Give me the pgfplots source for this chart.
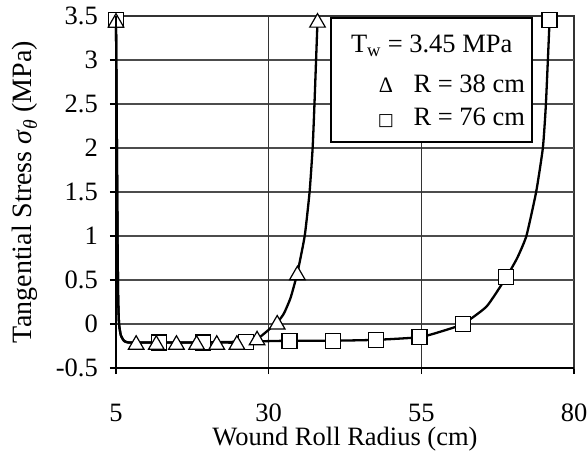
\documentclass[border=0pt]{standalone}
\usepackage{pgfplots}
\pgfplotsset{compat=1.18}
\usepackage{fontspec}
\setmainfont{Liberation Serif}
\newfontfamily\dejavu{DejaVu Sans}
\begin{document}
\begin{tikzpicture}
\begin{axis}[
  width=458pt, height=352pt, scale only axis,
  xmin=5, xmax=80, ymin=-0.5, ymax=3.5,
  xtick={5,30,55,80}, ytick={-0.5,0,0.5,1,1.5,2,2.5,3,3.5},
  tick pos=left,
  axis line style={black!80, line width=1.1pt},
  grid=major, major grid style={black!75, line width=1.2pt},
  tick align=outside, major tick length=6pt,
  tick style={black, line width=1.2pt},
  /pgf/number format/assume math mode=true,
  tick label style={font=\fontsize{26.5}{30}\selectfont, inner sep=0pt},
  xticklabel style={anchor=base, yshift=-47pt},
  yticklabel style={anchor=east, xshift=-12pt},
  label style={font=\fontsize{26.5}{30}\selectfont, inner sep=0pt},
  xlabel={Wound Roll Radius (cm)},
  xlabel style={at={(axis description cs:0.5,0)}, anchor=base, yshift=-77pt},
  ylabel={Tangential Stress \textit{σ}\textsubscript{\textit{θ}} (MPa)},
  ylabel style={at={(axis description cs:0,0.5)}, anchor=center, yshift=91pt, font=\fontsize{28}{32}\selectfont},
  clip=false,
  after end axis/.code={
    \draw[black, line width=1.6pt] (rel axis cs:0,1) -- (rel axis cs:0,0) -- (rel axis cs:1,0);
  },
]
% horizontal grid lines as thin filled bands
\fill[black!70] ([yshift=-0.6pt]axis cs:5,0) rectangle ([yshift=0.6pt]axis cs:80,0);
\fill[black!70] ([yshift=-0.6pt]axis cs:5,0.5) rectangle ([yshift=0.6pt]axis cs:80,0.5);
\fill[black!70] ([yshift=-0.6pt]axis cs:5,1) rectangle ([yshift=0.6pt]axis cs:80,1);
\fill[black!70] ([yshift=-0.6pt]axis cs:5,1.5) rectangle ([yshift=0.6pt]axis cs:80,1.5);
\fill[black!70] ([yshift=-0.6pt]axis cs:5,2) rectangle ([yshift=0.6pt]axis cs:80,2);
\fill[black!70] ([yshift=-0.6pt]axis cs:5,2.5) rectangle ([yshift=0.6pt]axis cs:80,2.5);
\fill[black!70] ([yshift=-0.6pt]axis cs:5,3) rectangle ([yshift=0.6pt]axis cs:80,3);
\draw[black!80, line width=1.1pt] (axis cs:30,-0.5) -- (axis cs:30,3.5);
\draw[black!80, line width=1.1pt] (axis cs:55,-0.5) -- (axis cs:55,3.5);
% R = 76 cm line
\addplot[black, line width=2.3pt, smooth, tension=0.3] coordinates {
 (5,3.45) (5.15,2.0) (5.25,1.0) (5.35,0.3) (5.5,0.0) (5.8,-0.13) (6.3,-0.19) (7,-0.21)
 (12.1,-0.21) (19.2,-0.21) (26.3,-0.2) (33.4,-0.19) (40.5,-0.19) (47.6,-0.18) (54.7,-0.15)
 (58,-0.09) (61.8,0.0) (65.7,0.2) (68.9,0.53) (70.7,0.75) (72.2,1.0) (73.8,1.5) (74.9,2.0) (75.4,2.5) (76,3.45)
};
% R = 38 cm line
\addplot[black, line width=2.3pt, smooth, tension=0.3] coordinates {
 (5,3.45) (5.15,2.0) (5.25,1.0) (5.35,0.3) (5.5,0.0) (5.8,-0.13) (6.3,-0.19) (7,-0.21)
 (8.3,-0.21) (11.6,-0.21) (14.9,-0.21) (18.2,-0.21) (21.5,-0.21) (24.8,-0.21) (28.1,-0.17)
 (31.4,0.02) (32.5,0.12) (33.6,0.3) (34.7,0.58) (35.9,1.0) (36.7,1.5) (37.2,2.0) (37.5,2.5) (38,3.45)
};
% R = 76 cm markers
\addplot[only marks, mark=square*, mark size=7.5pt,
  mark options={fill=white, draw=black, line width=1.2pt}] coordinates {
 (5,3.45) (12.1,-0.21) (19.2,-0.21) (26.3,-0.2) (33.4,-0.19) (40.5,-0.19) (47.6,-0.18)
 (54.7,-0.15) (61.8,0.0) (68.9,0.53) (76,3.45)
};
% R = 38 cm markers
\addplot[only marks, mark=triangle*, mark size=9pt,
  mark options={fill=white, draw=black, line width=1.2pt, yshift=-2.25pt}] coordinates {
 (5,3.45) (8.3,-0.21) (11.6,-0.21) (14.9,-0.21) (18.2,-0.21) (21.5,-0.21) (24.8,-0.21)
 (28.1,-0.16) (31.4,0.02) (34.7,0.58) (38,3.45)
};
% legend box
\draw[fill=white, line width=1.3pt] (axis cs:40.2,3.477) rectangle (axis cs:73.1,2.068);
\node[anchor=base, inner sep=0pt, font=\fontsize{26.5}{30}\selectfont] at (axis cs:56.7,3.08) {T\textsubscript{w} = 3.45 MPa};
\node[anchor=base east, inner sep=0pt, font=\fontsize{26.5}{30}\selectfont] at (axis cs:72.0,2.636) {R = 38 cm};
\node[anchor=base east, inner sep=0pt, font=\fontsize{26.5}{30}\selectfont] at (axis cs:72.0,2.26) {R = 76 cm};
\node[anchor=base, inner sep=0pt, font=\fontsize{22}{24}\selectfont] at (axis cs:49.2,2.636) {Δ};
\node[anchor=base, inner sep=0pt, font=\dejavu\fontsize{17}{19}\selectfont] at (axis cs:49.2,2.26) {□};
\end{axis}
\pgfresetboundingbox
\path[use as bounding box] ([shift={(-116pt,-86pt)}]current axis.south west) rectangle ([shift={(13pt,16pt)}]current axis.north east);
\end{tikzpicture}
\end{document}
